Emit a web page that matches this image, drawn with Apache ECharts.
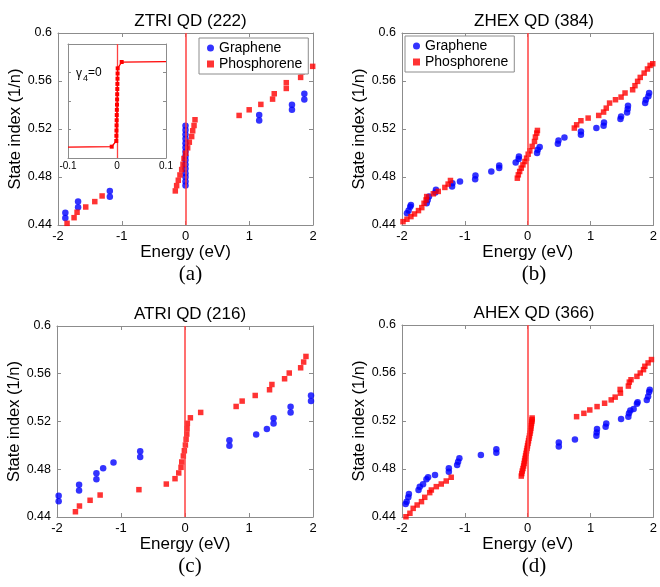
<!DOCTYPE html>
<html><head><meta charset="utf-8">
<script src="https://cdn.jsdelivr.net/npm/echarts@6/dist/echarts.min.js"></script>
<style>html,body{margin:0;padding:0;background:#fff}#c{width:660px;height:587px}</style>
</head><body><div id="c"></div>
<script>
// ---------- text ----------
const panelTitles = ['ZTRI QD (222)', 'ZHEX QD (384)', 'ATRI QD (216)', 'AHEX QD (366)'];
const panelCaptions = ['(a)', '(b)', '(c)', '(d)'];
const seriesNames = ['Graphene', 'Phosphorene'];
const xAxisName = 'Energy (eV)';
const yAxisName = 'State index (1/n)';
const insetText = ['γ', '4', '=0'];

// ---------- ticks ----------
const xRange = [-2, 2, 1];          // min, max, interval
const yRange = [0.44, 0.6, 0.04];
const insetXRange = [-0.1, 0.1, 0.1];
const insetYRange = [0.44, 0.6, 0.04];

// ---------- data: panel (a) ZTRI ----------
const grapheneA = [
  [-1.885,0.4503],[-1.885,0.4458],[-1.685,0.4595],[-1.685,0.4548],[-1.187,0.4684],[-1.187,0.4636],
  [0,0.5227],[0,0.5191],[0,0.5155],[0,0.5118],[0,0.5082],[0,0.5046],[0,0.5010],[0,0.4974],
  [0,0.4941],[0,0.4904],[0,0.4868],[0,0.4832],[0,0.4799],[0,0.4763],[0,0.4729],
  [1.156,0.5316],[1.156,0.5271],[1.670,0.5402],[1.670,0.5360],[1.864,0.5494],[1.864,0.5446]
];
const phosphoreneA = [
  [-1.858,0.4414],[-1.748,0.4461],[-1.701,0.4506],[-1.565,0.4550],[-1.423,0.4595],[-1.308,0.4642],
  [-0.160,0.4684],[-0.139,0.4728],[-0.113,0.4773],[-0.087,0.4817],[-0.060,0.4862],[-0.039,0.4906],
  [-0.024,0.4954],[0.003,0.4998],[0.034,0.5043],[0.060,0.5090],[0.097,0.5137],[0.113,0.5185],
  [0.134,0.5229],[0.149,0.5277],
  [0.841,0.5313],[0.999,0.5360],[1.182,0.5405],[1.366,0.5449],[1.392,0.5494],[1.581,0.5538],
  [1.581,0.5586],[1.806,0.5630],[1.830,0.5676],[1.995,0.5722]
];
// inset of (a): gamma4 = 0
const insetLine = [
  [-0.1,0.4554],[-0.0108,0.4559],
  [-0.0015,0.4639],[-0.0013,0.4712],[-0.0011,0.4786],[-0.0009,0.4858],[-0.0007,0.4930],
  [-0.0005,0.5003],[-0.0003,0.5076],[0,0.5149],[0.0002,0.5222],[0.0004,0.5295],
  [0.0006,0.5368],[0.0008,0.5440],[0.0010,0.5513],[0.0012,0.5586],[0.0014,0.5658],
  [0.0096,0.5747],[0.1,0.5752]
];

// ---------- data: panel (b) ZHEX ----------
const grapheneB = [
  [-1.921,0.4497],[-1.895,0.4520],[-1.869,0.4553],[-1.858,0.4567],[-1.607,0.4581],[-1.591,0.4609],
  [-1.570,0.4637],[-1.470,0.4671],[-1.460,0.4693],[-1.203,0.4720],[-1.198,0.4748],[-1.077,0.4762],
  [-0.836,0.4782],[-0.831,0.4813],[-0.579,0.4846],[-0.453,0.4874],[-0.453,0.4896],[-0.191,0.4921],
  [-0.144,0.4949],[-0.139,0.4971],[0.149,0.4999],[0.160,0.5027],[0.191,0.5049],[0.480,0.5077],
  [0.490,0.5105],[0.585,0.5130],[0.847,0.5152],[0.847,0.5180],[1.093,0.5208],[1.208,0.5227],
  [1.214,0.5255],[1.476,0.5283],[1.486,0.5305],[1.581,0.5338],[1.591,0.5366],[1.596,0.5394],
  [1.869,0.5416],[1.880,0.5444],[1.921,0.5472],[1.932,0.5500]
];
const phosphoreneB = [
  [-1.984,0.4428],[-1.921,0.4448],[-1.858,0.4470],[-1.801,0.4492],[-1.738,0.4520],[-1.685,0.4545],
  [-1.649,0.4581],[-1.617,0.4609],[-1.607,0.4637],[-1.502,0.4660],[-1.423,0.4680],[-1.318,0.4713],
  [-1.266,0.4741],[-1.229,0.4771],
  [-0.165,0.4790],[-0.149,0.4818],[-0.128,0.4846],[-0.102,0.4874],[-0.076,0.4901],[-0.044,0.4929],
  [-0.018,0.4957],[0.008,0.4990],[0.034,0.5018],[0.071,0.5055],[0.108,0.5096],[0.123,0.5133],
  [0.144,0.5166],[0.155,0.5188],
  [0.742,0.5208],[0.779,0.5235],[0.847,0.5269],[0.962,0.5291],[1.130,0.5313],[1.208,0.5341],
  [1.250,0.5374],[1.303,0.5416],[1.397,0.5444],[1.486,0.5466],[1.549,0.5500],[1.670,0.5527],
  [1.707,0.5561],[1.749,0.5597],[1.791,0.5630],[1.853,0.5666],[1.906,0.5700],[1.948,0.5730],
  [1.990,0.5744]
];

// ---------- data: panel (c) ATRI ----------
const grapheneC = [
  [-1.974,0.4579],[-1.974,0.4532],[-1.655,0.4671],[-1.655,0.4621],[-1.384,0.4766],[-1.384,0.4716],
  [-1.279,0.4808],[-1.117,0.4856],[-0.700,0.4951],[-0.700,0.4903],
  [0.694,0.5043],[0.694,0.4996],[1.112,0.5091],[1.279,0.5138],[1.384,0.5228],[1.384,0.5183],
  [1.650,0.5323],[1.650,0.5276],[1.969,0.5418],[1.969,0.5371]
];
const phosphoreneC = [
  [-1.712,0.4444],[-1.649,0.4492],[-1.483,0.4540],[-1.326,0.4584],[-0.720,0.4629],
  [-0.292,0.4676],[-0.156,0.4721],[-0.098,0.4769],[-0.062,0.4816],[-0.051,0.4861],[-0.026,0.4911],
  [-0.010,0.4955],[0.006,0.5003],[0.017,0.5051],[0.028,0.5095],[0.032,0.5140],[0.037,0.5185],
  [0.084,0.5231],[0.245,0.5276],
  [0.799,0.5326],[0.893,0.5371],[1.097,0.5418],[1.321,0.5466],[1.358,0.5510],[1.556,0.5558],
  [1.629,0.5606],[1.807,0.5650],[1.854,0.5698],[1.890,0.5745]
];

// ---------- data: panel (d) AHEX ----------
const grapheneD = [
  [-1.942,0.4508],[-1.926,0.4528],[-1.900,0.4564],[-1.890,0.4592],[-1.737,0.4625],[-1.717,0.4653],
  [-1.665,0.4673],[-1.611,0.4714],[-1.585,0.4731],[-1.475,0.4750],[-1.255,0.4778],[-1.255,0.4806],
  [-1.123,0.4833],[-1.107,0.4861],[-1.087,0.4889],[-0.745,0.4917],[-0.499,0.4936],[-0.499,0.4964],
  [0.495,0.5021],[0.495,0.4987],[0.752,0.5045],[1.093,0.5077],[1.098,0.5105],[1.103,0.5133],
  [1.240,0.5152],[1.250,0.5180],[1.486,0.5217],[1.602,0.5236],[1.612,0.5264],[1.633,0.5287],
  [1.686,0.5301],[1.738,0.5343],[1.749,0.5357],[1.895,0.5376],[1.916,0.5404],[1.932,0.5441],
  [1.942,0.5460]
];
const phosphoreneD = [
  [-1.937,0.4402],[-1.874,0.4431],[-1.822,0.4472],[-1.759,0.4500],[-1.690,0.4528],[-1.638,0.4564],
  [-1.559,0.4603],[-1.533,0.4625],[-1.454,0.4653],[-1.375,0.4675],[-1.296,0.4700],[-1.217,0.4731],
  [-0.102,0.4741],[-0.094,0.4762],[-0.086,0.4783],[-0.075,0.4804],[-0.065,0.4825],[-0.057,0.4846],
  [-0.050,0.4867],[-0.042,0.4888],[-0.034,0.4909],[-0.026,0.4930],[-0.018,0.4951],[-0.010,0.4972],
  [-0.003,0.4993],[0.005,0.5014],[0.013,0.5035],[0.021,0.5056],[0.029,0.5077],[0.037,0.5098],
  [0.045,0.5119],[0.050,0.5140],[0.055,0.5161],[0.061,0.5180],[0.066,0.5197],[0.069,0.5211],
  [0.071,0.5225],
  [0.778,0.5236],[0.894,0.5264],[0.988,0.5292],[1.104,0.5320],[1.224,0.5348],[1.329,0.5376],
  [1.392,0.5399],[1.471,0.5463],[1.476,0.5432],[1.602,0.5491],[1.617,0.5524],[1.644,0.5544],
  [1.738,0.5572],[1.791,0.5600],[1.843,0.5628],[1.864,0.5656],[1.916,0.5684],[1.969,0.5712]
];

// ---------- layout / style ----------
const FONT = '"Liberation Sans", Arial, Helvetica, sans-serif';
const BLUE = '#0000ff', RED = '#ff0000', VLINE = '#ff4040', AXIS = '#8c8c8c';
const grids = [
  {left: 58, top: 33, width: 255, height: 192},
  {left: 402, top: 33, width: 254, height: 192},
  {left: 57, top: 326, width: 256, height: 191},
  {left: 402, top: 325, width: 254, height: 192},
  {left: 68, top: 44, width: 98, height: 114, show: true, backgroundColor: '#fff', borderWidth: 0}
];
const panelData = [[grapheneA, phosphoreneA], [grapheneB, phosphoreneB], [grapheneC, phosphoreneC], [grapheneD, phosphoreneD]];
const fmt = v => String(+v.toFixed(2));

const xAxes = [], yAxes = [], series = [], titles = [];
function addAxes(gi, xr, yr, showXLabels, showYLabels, opts) {
  const common = {type: 'value', gridIndex: gi, splitLine: {show: false},
    axisLine: {show: true, onZero: false, lineStyle: {color: AXIS, width: 1}},
    axisTick: {show: true, inside: true, length: opts.tick, lineStyle: {color: AXIS}}};
  xAxes.push(Object.assign({}, common, {position: 'bottom', min: xr[0], max: xr[1], interval: xr[2],
    axisLabel: {show: showXLabels, color: '#000', fontFamily: FONT, fontSize: opts.xfs, margin: opts.xm, formatter: fmt},
    name: opts.xname || '', nameLocation: 'middle', nameGap: 15,
    nameTextStyle: {color: '#000', fontFamily: FONT, fontSize: 17}}));
  xAxes.push(Object.assign({}, common, {position: 'top', min: xr[0], max: xr[1], interval: xr[2], axisLabel: {show: false}}));
  yAxes.push(Object.assign({}, common, {position: 'left', min: yr[0], max: yr[1], interval: yr[2],
    axisLabel: {show: showYLabels, color: '#000', fontFamily: FONT, fontSize: 12.5, margin: 6, formatter: fmt},
    name: opts.yname || '', nameLocation: 'middle', nameRotate: 90, nameGap: opts.ygap || 32,
    nameTextStyle: {color: '#000', fontFamily: FONT, fontSize: 16.5}}));
  yAxes.push(Object.assign({}, common, {position: 'right', min: yr[0], max: yr[1], interval: yr[2], axisLabel: {show: false}}));
}

panelData.forEach((pd, i) => {
  addAxes(i, xRange, yRange, true, true, {tick: 4, xfs: 13, xm: 5, xname: xAxisName, yname: yAxisName, ygap: i % 2 ? 33 : 32});
  const g = grids[i];
  titles.push({text: panelTitles[i], left: g.left + g.width / 2, top: g.top - 25, textAlign: 'center',
    textStyle: {fontFamily: FONT, fontSize: 17, fontWeight: 'normal', color: '#000'}});
  titles.push({text: panelCaptions[i], left: g.left + g.width / 2, top: g.top + g.height + 34, textAlign: 'center',
    textStyle: {fontFamily: '"Liberation Serif", "DejaVu Serif", serif', fontSize: 21, fontWeight: 'normal', color: '#000'}});
  series.push({name: seriesNames[0], type: 'scatter', xAxisIndex: 2 * i, yAxisIndex: 2 * i, data: pd[0],
    symbol: 'circle', symbolSize: 6.5, itemStyle: {color: BLUE}, z: 3});
  series.push({name: seriesNames[1], type: 'scatter', xAxisIndex: 2 * i, yAxisIndex: 2 * i, data: pd[1],
    symbol: 'rect', symbolSize: 5.5, itemStyle: {color: RED}, z: 3,
    markLine: {silent: true, symbol: ['none', 'none'], label: {show: false}, animation: false,
      lineStyle: {color: VLINE, width: 1.5, type: 'solid'}, data: [{xAxis: 0}]}});
});

// inset
addAxes(4, insetXRange, insetYRange, true, false, {tick: 3, xfs: 10, xm: 3});
series.push({name: 'inset', type: 'line', xAxisIndex: 8, yAxisIndex: 8,
  data: insetLine.map((d, k) => (k === 0 || k === insetLine.length - 1) ? {value: d, symbol: 'none'} : {value: d}),
  symbol: 'rect', symbolSize: 4, showAllSymbol: true, lineStyle: {color: RED, width: 1.3}, itemStyle: {color: RED}, z: 5,
  markLine: {silent: true, symbol: ['none', 'none'], label: {show: false}, animation: false,
    lineStyle: {color: VLINE, width: 1.3, type: 'solid'}, data: [{xAxis: 0}]}});

const legendBase = {
  data: [{name: seriesNames[0], icon: 'circle'}, {name: seriesNames[1], icon: 'rect'}],
  orient: 'vertical', itemWidth: 7, itemHeight: 7, itemGap: 2, padding: [3, 6, 3, 8],
  borderColor: AXIS, borderWidth: 1, backgroundColor: '#fff', selectedMode: false, z: 10,
  textStyle: {fontFamily: FONT, fontSize: 14, color: '#000', padding: [0, 0, 0, 0]}
};

const chart = echarts.init(document.getElementById('c'), null, {renderer: 'canvas'});
chart.setOption({
  animation: false,
  backgroundColor: '#fff',
  title: titles,
  grid: grids,
  xAxis: xAxes,
  yAxis: yAxes,
  legend: [Object.assign({}, legendBase, {left: 199, top: 38}), Object.assign({}, legendBase, {left: 405, top: 36})],
  graphic: [
    {type: 'text', left: 76, top: 68, z: 20, style: {text: insetText[0], font: '12px ' + FONT, fill: '#000'}},
    {type: 'text', left: 83, top: 74, z: 20, style: {text: insetText[1], font: '9px ' + FONT, fill: '#000'}},
    {type: 'text', left: 88, top: 67, z: 20, style: {text: insetText[2], font: '12px ' + FONT, fill: '#000'}}
  ],
  series: series
});
</script></body></html>
